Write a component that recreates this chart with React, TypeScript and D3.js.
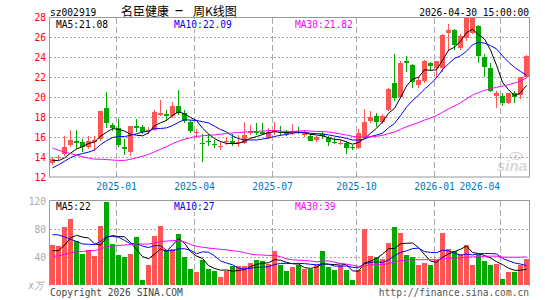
import React from "react";
import * as d3 from "d3";

// weekly K data, one entry per week (oldest first)
const opens = [
  13.4, 13.9, 14.3, 15.2, 15.65, 15.5, 15.0, 15.55, 15.8, 18.85,
  17.25, 16.95, 15.0, 14.55, 17.1, 17.0, 16.6, 16.75, 18.2, 18.3,
  18.1, 19.05, 18.35, 17.5, 16.45, 15.45, 15.6, 15.3, 15.05, 15.5,
  15.6, 15.4, 15.45, 16.45, 16.55, 16.55, 15.95, 16.55, 16.55, 16.55,
  16.45, 16.55, 16.2, 16.1, 15.7, 16.3, 15.95, 15.55, 15.35, 15.45,
  15.0, 14.95, 16.0, 17.6, 18.1, 17.5, 18.7, 21.4, 20.05, 23.6,
  23.2, 21.2, 21.6, 23.35, 22.95, 22.95, 26.45, 26.75, 24.95, 25.95,
  26.45, 27.1, 24.0, 22.9, 20.1, 20.15, 19.45, 20.35, 20.2, 22.0,
];
const highs = [
  14.0, 14.25, 16.1, 16.75, 16.7, 15.85, 16.15, 16.1, 18.65, 20.5,
  17.4, 17.8, 15.8, 17.1, 17.8, 17.2, 17.0, 18.7, 19.75, 18.7,
  19.5, 20.7, 18.7, 17.7, 16.8, 16.3, 16.3, 15.7, 15.5, 15.9,
  16.3, 16.2, 17.5, 17.2, 17.35, 17.4, 16.95, 17.5, 17.1, 16.7,
  17.3, 17.0, 16.7, 16.4, 16.1, 16.55, 16.1, 15.95, 15.7, 15.6,
  15.2, 16.8, 18.8, 18.6, 18.4, 18.3, 20.9, 24.3, 23.65, 24.05,
  23.3, 22.05, 23.7, 23.5, 23.65, 26.3, 27.3, 26.8, 26.3, 28.0,
  28.0, 27.2, 24.3, 23.4, 20.65, 20.45, 20.4, 20.6, 22.05, 24.2,
];
const lows = [
  13.2, 13.7, 14.1, 15.0, 14.8, 14.55, 14.8, 14.6, 15.6, 16.95,
  16.6, 15.0, 14.2, 14.1, 16.5, 16.3, 16.3, 16.6, 18.1, 17.6,
  17.9, 18.2, 17.35, 16.35, 15.9, 13.5, 15.1, 14.95, 14.7, 15.2,
  15.1, 15.05, 15.35, 16.25, 16.25, 16.2, 15.8, 16.25, 16.1, 16.1,
  16.25, 16.3, 16.0, 15.6, 15.55, 15.8, 15.1, 15.3, 15.2, 14.35,
  14.7, 14.85, 15.9, 17.4, 17.0, 17.3, 18.6, 19.6, 19.9, 22.5,
  20.95, 20.95, 21.45, 22.6, 22.05, 22.5, 24.6, 24.75, 24.7, 25.6,
  26.3, 23.45, 22.0, 20.5, 18.9, 19.05, 19.3, 19.45, 19.8, 21.9,
];
const closes = [
  13.8, 14.05, 15.0, 15.75, 15.4, 15.0, 15.6, 15.75, 18.6, 17.4,
  16.85, 15.25, 14.85, 17.05, 16.9, 16.55, 16.7, 18.5, 18.45, 18.05,
  19.15, 18.4, 17.55, 16.6, 16.55, 15.35, 15.5, 15.2, 15.15, 15.6,
  15.3, 15.55, 16.25, 16.65, 16.45, 16.3, 16.55, 16.7, 16.4, 16.3,
  16.6, 16.45, 16.35, 15.65, 16.0, 16.1, 15.55, 15.5, 15.45, 14.95,
  14.95, 16.4, 17.5, 18.0, 17.5, 18.1, 20.8, 19.9, 23.35, 23.35,
  21.5, 21.75, 23.65, 23.1, 23.6, 26.25, 26.75, 25.2, 26.1, 27.9,
  27.95, 24.05, 23.0, 20.6, 20.35, 19.35, 20.35, 20.0, 22.0, 24.1,
];
// volume, x万
const volumes = [
  57.6, 56, 83.3, 94.7, 63.3, 44.7, 50, 41.9, 84.7, 118,
  58.5, 43.3, 39.5, 44.7, 68, 7.6, 28, 70.4, 83.8, 50.4,
  51.8, 73.3, 40, 23.3, 18, 35.2, 22.3, 19.5, 10.9, 19.5,
  26.6, 26.6, 26.6, 31.9, 35.2, 35, 30, 49, 28, 19.5,
  25.2, 28, 23.3, 22.8, 28, 49, 25.2, 20.9, 28, 20.9,
  6.6, 21.9, 80.4, 40.9, 39.5, 37.6, 60.4, 82.3, 74.7, 43.3,
  39.5, 28, 31.9, 28, 35.2, 74.7, 51.8, 49, 44.7, 57.6,
  29, 44.3, 35, 28, 30, 9, 19, 19, 28, 37,
];
// weeks before the visible window (only feed the moving averages)
const priorCloses = [
  21.0, 20.6, 20.2, 20.0, 19.8, 19.5, 19.0, 18.8, 18.4, 18.2,
  16.5, 15.0, 13.5, 12.5, 11.8, 11.2, 10.8, 10.6, 10.4, 10.3,
  10.8, 11.5, 12.2, 12.8, 13.4, 14.2, 13.6, 13.4, 13.3,
];
const priorVolumes = [
  30, 28, 26, 24, 22, 25, 27, 23, 21, 20,
  22, 24, 26, 25, 28, 27, 24, 26, 28, 30,
  60, 110, 130, 95, 80, 55, 45, 42, 45,
];

const tickIndex = [11, 24, 37, 51, 64, 75];
const tickLabels = ["2025-01", "2025-04", "2025-07", "2025-10", "2026-01", "2026-04"];
const priceTicks = [12, 14, 16, 18, 20, 22, 24, 26, 28];
const volTicks = [40, 80, 120];
const priceLegend = ["MA5:21.08", "MA10:22.09", "MA30:21.82"];
const volLegend = ["MA5:22", "MA10:27", "MA30:39"];

const UP = "#ff5555";
const DOWN = "#00a800";
const MA_COLORS = ["#000000", "#0000ff", "#ff00ff"];
const MONO = "'DejaVu Sans Mono', monospace";
const CJK = "'Noto Sans CJK SC'";

function movingAvg(prior: number[], vals: number[], k: number) {
  const all = prior.concat(vals);
  return vals.map((_, i) => {
    const j = prior.length + i;
    return d3.mean(all.slice(j - k + 1, j + 1)) as number;
  });
}

export default function App() {
  const n = closes.length;
  const x = d3.scaleBand<number>().domain(d3.range(n)).range([50, 530]);
  const y = d3.scaleLinear().domain([12, 28]).range([177, 17]);
  const yv = d3.scaleLinear().domain([0, 120]).range([285, 201]);
  const cx = (i: number) => (x(i) as number) + 2.5;

  const priceMA = [5, 10, 30].map((k) => movingAvg(priorCloses, closes, k));
  const volMA = [5, 10, 30].map((k) => movingAvg(priorVolumes, volumes, k));
  const line = (sc: d3.ScaleLinear<number, number>) =>
    d3.line<number>().x((_, i) => cx(i)).y((d) => sc(d));

  const legendX = [56, 174, 295];

  return (
    <svg width={545} height={300} style={{ position: "absolute", left: 0, top: 0, background: "#fff" }}>
      {/* header */}
      <text x={50} y={16} fontFamily={MONO} fontSize={9.6} fill="#000">sz002919</text>
      <text x={121} y={15.5} fontFamily={CJK} fontSize={12} fill="#000">名臣健康</text>
      <rect x={175.5} y={10} width={7} height={1.2} fill="#000" />
      <text x={193} y={15.5} fontFamily={CJK} fontSize={12} fill="#000">周K线图</text>
      <text x={529} y={16} textAnchor="end" fontFamily={MONO} fontSize={9.6} fill="#000">2026-04-30 15:00:00</text>

      {/* main grid */}
      {priceTicks.slice(1, -1).map((t) => (
        <line key={t} x1={50} x2={529} y1={Math.round(y(t)) + 0.5} y2={Math.round(y(t)) + 0.5}
          stroke="#aaa" strokeDasharray="2,2" />
      ))}
      {tickIndex.map((ti) => (
        <g key={ti}>
          <line x1={(x(ti) as number) + 0.5} x2={(x(ti) as number) + 0.5} y1={18} y2={177}
            stroke="#aaa" strokeDasharray="6,3" />
          <line x1={(x(ti) as number) + 0.5} x2={(x(ti) as number) + 0.5} y1={201} y2={285}
            stroke="#aaa" strokeDasharray="6,3" />
        </g>
      ))}
      {volTicks.slice(0, -1).map((t) => (
        <line key={t} x1={50} x2={529} y1={Math.round(yv(t)) + 0.5} y2={Math.round(yv(t)) + 0.5}
          stroke="#aaa" strokeDasharray="2,2" />
      ))}

      {/* sina watermark */}
      <g opacity={0.55}>
        <ellipse cx={516} cy={156} rx={6} ry={3.5} fill="none" stroke="#bbb" strokeWidth={1.5} />
        <circle cx={516} cy={156} r={1.5} fill="#e9a0a0" />
        <text x={497} y={171} fontFamily="'Liberation Sans', Arial" fontStyle="italic" fontWeight="bold"
          fontSize={15} fill="#bbb">sina</text>
      </g>

      {/* candles */}
      {closes.map((c, i) => {
        const o = opens[i];
        const up = c >= o;
        const col = up ? UP : DOWN;
        const top = Math.round(y(Math.max(o, c)));
        const bot = Math.round(y(Math.min(o, c)));
        const hi = Math.round(y(highs[i]));
        const lo = Math.round(y(lows[i]));
        const x0 = x(i) as number;
        return (
          <g key={i}>
            <rect x={x0 + 2} y={hi} width={1} height={Math.max(1, lo - hi)} fill={col} />
            <rect x={x0} y={top} width={5} height={Math.max(1, bot - top)} fill={col} />
          </g>
        );
      })}
      {priceMA.map((m, k) => (
        <path key={k} d={line(y)(m) as string} fill="none" stroke={MA_COLORS[k]} strokeWidth={1} />
      ))}

      {/* volume bars */}
      {volumes.map((v, i) => {
        const top = Math.round(yv(v));
        return (
          <rect key={i} x={x(i) as number} y={top} width={5} height={285 - top}
            fill={closes[i] >= opens[i] ? UP : DOWN} />
        );
      })}
      {volMA.map((m, k) => (
        <path key={k} d={line(yv)(m) as string} fill="none" stroke={MA_COLORS[k]} strokeWidth={1} />
      ))}

      {/* frames */}
      <rect x={49.5} y={17.5} width={480} height={159.5} fill="none" stroke="#999" />
      <path d="M49.5,286 V200.5 H529.5 V286" fill="none" stroke="#999" />

      {/* legends */}
      {priceLegend.map((t, k) => (
        <g key={t}>
          <rect x={legendX[k] - 1} y={19} width={t.length * 5.8 + 2} height={10} fill="#fff" />
          <text x={legendX[k]} y={27.5} fontFamily={MONO} fontSize={9.6} fill={MA_COLORS[k]}>{t}</text>
        </g>
      ))}
      {volLegend.map((t, k) => (
        <g key={t}>
          <rect x={legendX[k] - 1} y={202} width={t.length * 5.8 + 2} height={10} fill="#fff" />
          <text x={legendX[k]} y={210} fontFamily={MONO} fontSize={9.6} fill={MA_COLORS[k]}>{t}</text>
        </g>
      ))}

      {/* axes labels */}
      {priceTicks.map((t) => (
        <text key={t} x={46} y={y(t) + 3.5} textAnchor="end" fontFamily={MONO} fontSize={9.6} fill="#ff0000">{t}</text>
      ))}
      {tickIndex.map((ti, k) => (
        <text key={ti} x={k === tickIndex.length - 1 ? (x(ti) as number) : (x(ti) as number) + 0.5}
          y={190} textAnchor={k === tickIndex.length - 1 ? "end" : "middle"}
          fontFamily={MONO} fontSize={9.6} fill="#0077cc">{tickLabels[k]}</text>
      ))}
      {volTicks.map((t) => (
        <text key={t} x={46} y={yv(t) + 3.5} textAnchor="end" fontFamily={MONO} fontSize={9.6} fill="#aaa">{t}</text>
      ))}
      <text x={44} y={289} textAnchor="end" fontFamily={MONO} fontSize={9.6} fill="#aaa" fontStyle="italic">x万</text>

      {/* footer */}
      <text x={50} y={296} fontFamily={MONO} fontSize={9.6} fill="#444">Copyright 2026 SINA.COM</text>
      <text x={529} y={296} textAnchor="end" fontFamily={MONO} fontSize={9.6} fill="#555">http://finance.sina.com.cn</text>
    </svg>
  );
}
